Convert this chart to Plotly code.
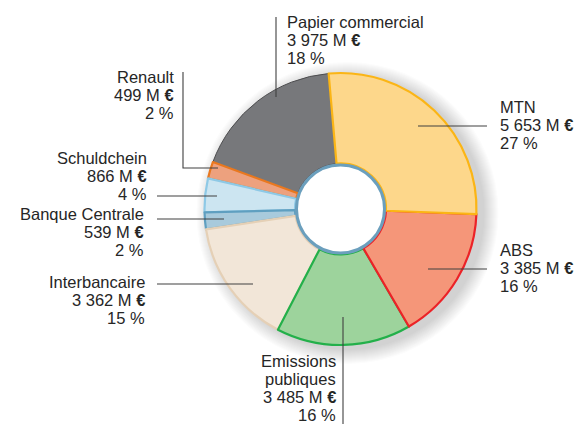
import plotly.graph_objects as go

# ---- data (clockwise from the top) ----
names = ["MTN", "ABS", "Emissions publiques", "Interbancaire",
         "Banque Centrale", "Schuldchein", "Renault", "Papier commercial"]
amounts = ["5 653", "3 385", "3 485", "3 362", "539", "866", "499", "3 975"]
percents = [27, 16, 16, 15, 2, 4, 2, 18]

fills = ["#fdd78b", "#f59679", "#9dd39c", "#f2e6d8",
         "#a8cadc", "#cce5f1", "#eda17e", "#77787b"]
edges = ["#fbb515", "#ec2227", "#23b04a", "#e5d0b6",
         "#5f9fc0", "#8ec9e6", "#e9781f", "#4d4d4f"]

W, H = 587, 424
CX, CY, R = 340.5, 209.0, 136.0
HOLE_R = 45.5
START = -5.0  # angle (deg, clockwise from 12 o'clock) where MTN begins


def px(x):
    return x / W


def py(y):
    return 1 - y / H


# draw in reverse so earlier slices' outlines sit on top (as in the reference)
rev = list(range(len(names)))[::-1]
rot = START - percents[-1] * 3.6

fig = go.Figure(go.Pie(
    labels=[names[i] for i in rev],
    values=[percents[i] for i in rev],
    sort=False,
    direction="counterclockwise",
    rotation=rot,
    hole=HOLE_R / R,
    textinfo="none",
    hoverinfo="label+percent",
    showlegend=False,
    marker=dict(colors=[fills[i] for i in rev],
                line=dict(color=[edges[i] for i in rev],
                          width=[1 if i == 7 else 2.2 for i in rev])),
    domain=dict(x=[px(CX - R), px(CX + R)], y=[py(CY + R), py(CY - R)]),
))

shapes = []
# soft shadow to the right of the pie
for k in range(15):
    rr = R + 1 + k
    sx, sy = CX + 7, CY + 4
    shapes.append(dict(type="circle", xref="paper", yref="paper", layer="below",
                       x0=px(sx - rr), x1=px(sx + rr), y0=py(sy + rr), y1=py(sy - rr),
                       fillcolor="rgba(70,70,85,0.014)", line=dict(width=0)))
# white hole with blue ring
rr = HOLE_R - 1.5
shapes.append(dict(type="circle", xref="paper", yref="paper", layer="above",
                   x0=px(CX - rr), x1=px(CX + rr), y0=py(CY + rr), y1=py(CY - rr),
                   fillcolor="white", line=dict(color="#6b9fbd", width=3)))

# leader lines (pixel polylines)
leaders = [
    [(418, 126), (487, 126)],
    [(428, 269), (487, 269)],
    [(343, 317), (343, 424)],
    [(253, 284), (157, 284)],
    [(224, 219), (157, 219)],
    [(217, 196), (157, 196)],
    [(218, 168), (183, 168), (183, 72)],
    [(276, 97), (276, 17)],
]
for pts in leaders:
    path = "M " + " L ".join(f"{px(x):.5f},{py(y):.5f}" for x, y in pts)
    shapes.append(dict(type="path", xref="paper", yref="paper", layer="above",
                       path=path, line=dict(color="#404040", width=1.1)))

# label blocks: (x, anchor, first line centre y)
label_pos = [
    (499, "left", 107),
    (499, "left", 250),
    (337, "right", 361),
    (146, "right", 282),
    (145, "right", 214),
    (148, "right", 158),
    (175, "right", 77),
    (286, "left", 22),
]
LINE = 17.9
FONT = dict(family="Liberation Sans", size=16.5, color="#262626")
annotations = []
for i, (x, anc, y0) in enumerate(label_pos):
    lines = names[i].split(" ") if names[i] == "Emissions publiques" else [names[i]]
    lines = lines + [f"{amounts[i]} M <b>€</b>", f"{percents[i]} %"]
    for j, t in enumerate(lines):
        annotations.append(dict(text=t, xref="paper", yref="paper",
                                x=px(x), y=py(y0 + j * LINE), xanchor=anc, yanchor="middle",
                                showarrow=False, font=FONT, borderpad=0))

fig.update_layout(width=W, height=H, margin=dict(l=0, r=0, t=0, b=0),
                  paper_bgcolor="white", plot_bgcolor="white",
                  shapes=shapes, annotations=annotations)
fig.write_html("out.html", config={"displayModeBar": False},
               post_script="document.body.style.margin='0';document.body.style.overflow='hidden';")
